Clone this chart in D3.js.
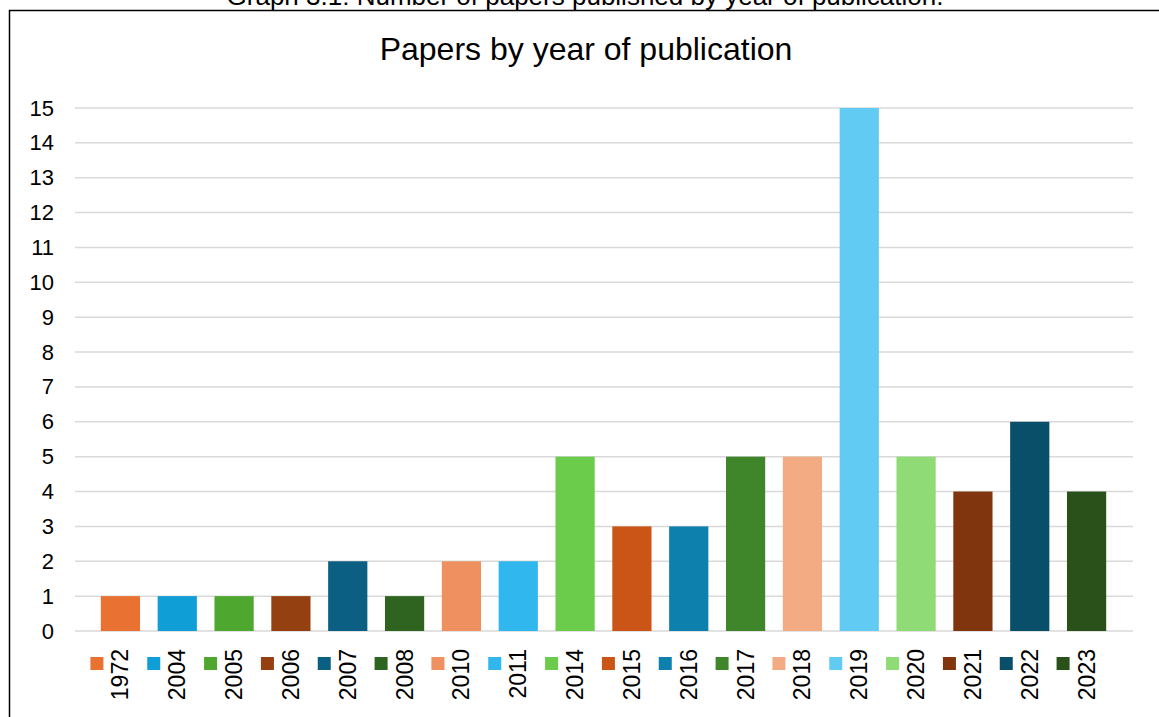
<html>
  <head>
    <meta charset="utf-8" />
    <title>Papers by year of publication</title>
    <style>
      body { margin: 0; background: #fff; }
      text { font-family: "Liberation Sans", Arial, sans-serif; }
    </style>
  </head>
  <body>
    <script src="https://cdnjs.cloudflare.com/ajax/libs/d3/7.8.5/d3.min.js"></script>
    <script>
      const years = ["1972", "2004", "2005", "2006", "2007", "2008", "2010", "2011", "2014",
        "2015", "2016", "2017", "2018", "2019", "2020", "2021", "2022", "2023"];
      const papers = [1, 1, 1, 1, 2, 1, 2, 2, 5, 3, 3, 5, 5, 15, 5, 4, 6, 4];
      const colors = ["#e97132", "#0f9ed5", "#4ea72e", "#954011", "#0b5f82", "#2f6420",
        "#ee9060", "#2fb7ee", "#6bcb4a", "#cb5417", "#0d80ad", "#3f862b",
        "#f2ab83", "#61cbf3", "#8fdb75", "#80350e", "#0a4f69", "#2a5119"];
      const yTicks = d3.range(0, 16);

      const width = 1159;
      const height = 717;

      const svg = d3.select("body").append("svg")
        .attr("width", width)
        .attr("height", height);

      // caption above the frame (cut off at the top of the picture)
      svg.append("text")
        .attr("x", 585)
        .attr("y", 5)
        .attr("text-anchor", "middle")
        .attr("font-size", 26)
        .text("Graph 3.1: Number of papers published by year of publication.");

      // chart frame
      svg.append("path")
        .attr("d", "M9.5,730 V10.5 H1170")
        .attr("fill", "none")
        .attr("stroke", "#000")
        .attr("stroke-width", 1.5);

      svg.append("text")
        .attr("x", 586)
        .attr("y", 60)
        .attr("text-anchor", "middle")
        .attr("font-size", 32)
        .text("Papers by year of publication");

      const x = d3.scaleBand()
        .domain(years)
        .range([92, 1115])
        .paddingInner(0.31)
        .paddingOuter(0.155);

      const y = d3.scaleLinear()
        .domain([0, 15])
        .range([631, 108]);

      // gridlines
      svg.append("g")
        .selectAll("line")
        .data(yTicks)
        .join("line")
        .attr("x1", 75)
        .attr("x2", 1133)
        .attr("y1", d => y(d))
        .attr("y2", d => y(d))
        .attr("stroke", "#d9d9d9")
        .attr("stroke-width", 1.5);

      // y axis labels
      const yAxis = svg.append("g")
        .attr("transform", "translate(54,0)")
        .call(d3.axisLeft(y).tickValues(yTicks).tickSize(0).tickPadding(0));
      yAxis.select(".domain").remove();
      yAxis.selectAll("text")
        .attr("font-size", 22)
        .attr("font-family", "Liberation Sans, Arial, sans-serif")
        .attr("fill", "#000");

      // bars
      svg.append("g")
        .selectAll("rect")
        .data(years)
        .join("rect")
        .attr("x", d => x(d))
        .attr("y", (d, i) => y(papers[i]))
        .attr("width", x.bandwidth())
        .attr("height", (d, i) => y(0) - y(papers[i]))
        .attr("fill", (d, i) => colors[i]);

      // category labels with colour keys
      const keys = svg.append("g")
        .selectAll("g")
        .data(years)
        .join("g")
        .attr("transform", d => `translate(${x(d) + x.bandwidth() / 2},0)`);

      keys.append("rect")
        .attr("x", -30)
        .attr("y", 657)
        .attr("width", 13)
        .attr("height", 13)
        .attr("fill", (d, i) => colors[i]);

      keys.append("text")
        .attr("transform", "translate(8,649) rotate(-90)")
        .attr("text-anchor", "end")
        .attr("font-size", 23)
        .text(d => d);
    </script>
  </body>
</html>
